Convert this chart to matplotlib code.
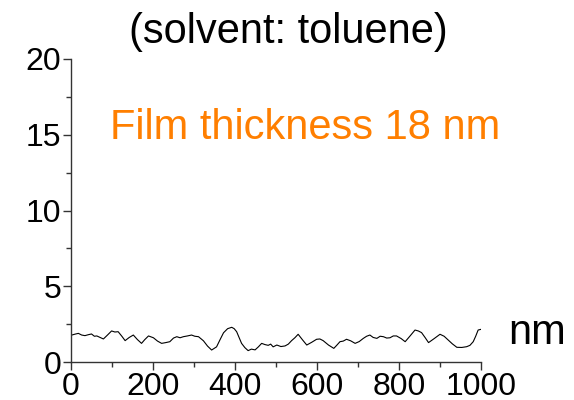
import matplotlib
matplotlib.use("Agg")
import matplotlib.pyplot as plt
from matplotlib.ticker import MultipleLocator

plt.rcParams['font.family'] = ['Liberation Sans', 'DejaVu Sans']

# height profile
pos_nm = [2, 10, 18, 26, 34, 42, 50, 57, 63, 71, 79, 89, 99, 107, 115, 124,
          132, 142, 152, 162, 172, 180, 189, 195, 201, 211, 221, 231, 241, 250,
          258, 266, 274, 284, 294, 302, 311, 323, 333, 343, 355, 364, 372, 382,
          392, 398, 404, 416, 424, 432, 440, 449, 457, 465, 473, 481, 487, 493,
          502, 512, 522, 530, 538, 546, 554, 565, 575, 587, 599, 607, 615, 628,
          641, 648, 656, 664, 672, 682, 693, 703, 713, 721, 729, 737, 746, 754,
          762, 770, 778, 786, 794, 805, 815, 827, 839, 847, 855, 864, 872, 886,
          900, 910, 920, 930, 941, 953, 965, 973, 981, 987, 993, 999]
height_nm = [1.78, 1.84, 1.89, 1.78, 1.74, 1.80, 1.85, 1.70, 1.72, 1.62, 1.52,
             1.78, 2.05, 1.98, 2.00, 1.70, 1.41, 1.62, 1.78, 1.48, 1.23, 1.48,
             1.72, 1.66, 1.60, 1.38, 1.23, 1.28, 1.34, 1.58, 1.67, 1.60, 1.67,
             1.72, 1.78, 1.70, 1.67, 1.40, 1.05, 0.79, 1.00, 1.50, 1.93, 2.20,
             2.29, 2.20, 2.00, 1.23, 0.95, 0.75, 0.85, 0.80, 1.00, 1.23, 1.15,
             1.10, 1.18, 1.00, 1.12, 1.02, 1.06, 1.18, 1.41, 1.60, 1.83, 1.45,
             1.12, 1.30, 1.50, 1.52, 1.41, 1.12, 0.90, 1.10, 1.34, 1.38, 1.50,
             1.40, 1.23, 1.35, 1.56, 1.70, 1.78, 1.62, 1.56, 1.70, 1.67, 1.58,
             1.60, 1.72, 1.72, 1.55, 1.34, 1.72, 2.11, 2.05, 1.94, 1.60, 1.28,
             1.55, 1.83, 1.70, 1.45, 1.20, 0.97, 0.96, 1.01, 1.10, 1.34, 1.70,
             2.11, 2.15]

title = "(solvent: toluene)"
note = "Film thickness 18 nm"

fig = plt.figure(figsize=(5.74, 4.0), dpi=100)
ax = fig.add_axes([0.1237, 0.095, 0.7143, 0.7575])
ax.plot(pos_nm, height_nm, color='black', lw=0.8)

ax.set_xlim(0, 1000)
ax.set_ylim(0, 20)
ax.xaxis.set_major_locator(MultipleLocator(200))
ax.xaxis.set_minor_locator(MultipleLocator(100))
ax.yaxis.set_major_locator(MultipleLocator(5))
ax.yaxis.set_minor_locator(MultipleLocator(2.5))
for s in ['top', 'right']:
    ax.spines[s].set_visible(False)
for s in ['left', 'bottom']:
    ax.spines[s].set_linewidth(1.0)
    ax.spines[s].set_color('#333333')
ax.tick_params(which='major', length=6, width=1.0, labelsize=23, color='#333333', pad=1)
ax.tick_params(which='minor', length=3.5, width=1.0, color='#333333')

fig.text(288 / 574, 1 - 32 / 400, title, ha='center', va='center', fontsize=30)
fig.text(305 / 574, 1 - 128 / 400, note, ha='center', va='center',
         fontsize=30, color='#FF7F00')
fig.text(537 / 574, 1 - 333 / 400, "nm", ha='center', va='center', fontsize=30)

fig.savefig("out.png", dpi=100)
